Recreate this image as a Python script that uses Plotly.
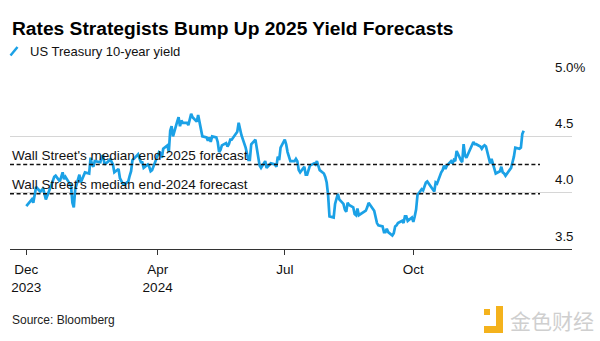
import plotly.graph_objects as go

# ---------------- data ----------------
dates = [
    "2023-12-29",
    "2024-01-02", "2024-01-03", "2024-01-04", "2024-01-05", "2024-01-08", "2024-01-09", "2024-01-10",
    "2024-01-11", "2024-01-12", "2024-01-16", "2024-01-17", "2024-01-18", "2024-01-19", "2024-01-22",
    "2024-01-23", "2024-01-24", "2024-01-25", "2024-01-26", "2024-01-29", "2024-01-30", "2024-01-31",
    "2024-02-01", "2024-02-02", "2024-02-05", "2024-02-06", "2024-02-07", "2024-02-08", "2024-02-09",
    "2024-02-12", "2024-02-13", "2024-02-14", "2024-02-15", "2024-02-16", "2024-02-20", "2024-02-21",
    "2024-02-22", "2024-02-23", "2024-02-26", "2024-02-27", "2024-02-28", "2024-02-29", "2024-03-01",
    "2024-03-04", "2024-03-05", "2024-03-06", "2024-03-07", "2024-03-08", "2024-03-11", "2024-03-12",
    "2024-03-13", "2024-03-14", "2024-03-15", "2024-03-18", "2024-03-19", "2024-03-20", "2024-03-21",
    "2024-03-22", "2024-03-25", "2024-03-26", "2024-03-27", "2024-03-28",
    "2024-04-01", "2024-04-02", "2024-04-03", "2024-04-04", "2024-04-05", "2024-04-08", "2024-04-09",
    "2024-04-10", "2024-04-11", "2024-04-12", "2024-04-15", "2024-04-16", "2024-04-17", "2024-04-18",
    "2024-04-19", "2024-04-22", "2024-04-23", "2024-04-24", "2024-04-25", "2024-04-26", "2024-04-29",
    "2024-04-30", "2024-05-01", "2024-05-02", "2024-05-03", "2024-05-06", "2024-05-07", "2024-05-08",
    "2024-05-09", "2024-05-10", "2024-05-13", "2024-05-14", "2024-05-15", "2024-05-16", "2024-05-17",
    "2024-05-20", "2024-05-21", "2024-05-22", "2024-05-23", "2024-05-24", "2024-05-28", "2024-05-29",
    "2024-05-30", "2024-05-31", "2024-06-03", "2024-06-04", "2024-06-05", "2024-06-06", "2024-06-07",
    "2024-06-10", "2024-06-11", "2024-06-12", "2024-06-13", "2024-06-14", "2024-06-17", "2024-06-18",
    "2024-06-20", "2024-06-21", "2024-06-24", "2024-06-25", "2024-06-26", "2024-06-27", "2024-06-28",
    "2024-07-01", "2024-07-02", "2024-07-03", "2024-07-05", "2024-07-08", "2024-07-09", "2024-07-10",
    "2024-07-11", "2024-07-12", "2024-07-15", "2024-07-16", "2024-07-17", "2024-07-18", "2024-07-19",
    "2024-07-22", "2024-07-23", "2024-07-24", "2024-07-25", "2024-07-26", "2024-07-29", "2024-07-30",
    "2024-07-31", "2024-08-01", "2024-08-02", "2024-08-05", "2024-08-06", "2024-08-07", "2024-08-08",
    "2024-08-09", "2024-08-12", "2024-08-13", "2024-08-14", "2024-08-15", "2024-08-16", "2024-08-19",
    "2024-08-20", "2024-08-21", "2024-08-22", "2024-08-23", "2024-08-26", "2024-08-27", "2024-08-28",
    "2024-08-29", "2024-08-30", "2024-09-03", "2024-09-04", "2024-09-05", "2024-09-06", "2024-09-09",
    "2024-09-10", "2024-09-11", "2024-09-12", "2024-09-13", "2024-09-16", "2024-09-17", "2024-09-18",
    "2024-09-19", "2024-09-20", "2024-09-23", "2024-09-24", "2024-09-25", "2024-09-26", "2024-09-27",
    "2024-09-30", "2024-10-01", "2024-10-02", "2024-10-03", "2024-10-04", "2024-10-07", "2024-10-08",
    "2024-10-09", "2024-10-10", "2024-10-11", "2024-10-15", "2024-10-16", "2024-10-17", "2024-10-18",
    "2024-10-21", "2024-10-22", "2024-10-23", "2024-10-24", "2024-10-25", "2024-10-28", "2024-10-29",
    "2024-10-30", "2024-10-31", "2024-11-01", "2024-11-04", "2024-11-05", "2024-11-06", "2024-11-07",
    "2024-11-08", "2024-11-12", "2024-11-13", "2024-11-14", "2024-11-15", "2024-11-18", "2024-11-19",
    "2024-11-20", "2024-11-21", "2024-11-22", "2024-11-25", "2024-11-26", "2024-11-27", "2024-11-29",
    "2024-12-02", "2024-12-03", "2024-12-04", "2024-12-05", "2024-12-06", "2024-12-09", "2024-12-10",
    "2024-12-11", "2024-12-12", "2024-12-13", "2024-12-16", "2024-12-17", "2024-12-18", "2024-12-19",
]
yields = [
    3.88,
    3.94, 3.91, 3.99, 4.05, 4.01, 4.02, 4.04,
    3.98, 3.94, 4.07, 4.10, 4.14, 4.15, 4.10,
    4.14, 4.18, 4.12, 4.14, 4.08, 4.06, 3.91,
    3.87, 4.03, 4.16, 4.09, 4.12, 4.15, 4.18,
    4.17, 4.31, 4.25, 4.23, 4.28, 4.27, 4.32,
    4.33, 4.25, 4.28, 4.30, 4.27, 4.25, 4.18,
    4.21, 4.13, 4.10, 4.08, 4.07, 4.10, 4.15,
    4.19, 4.29, 4.30, 4.34, 4.30, 4.27, 4.27,
    4.22, 4.25, 4.23, 4.19, 4.20,
    4.33, 4.36, 4.35, 4.31, 4.39, 4.42, 4.36,
    4.55, 4.59, 4.50, 4.63, 4.67, 4.59, 4.64,
    4.62, 4.62, 4.60, 4.65, 4.70, 4.67, 4.63,
    4.69, 4.63, 4.58, 4.50, 4.49, 4.46, 4.49,
    4.45, 4.50, 4.49, 4.45, 4.36, 4.38, 4.42,
    4.44, 4.41, 4.43, 4.47, 4.47, 4.54, 4.62,
    4.55, 4.51, 4.40, 4.33, 4.29, 4.29, 4.43,
    4.47, 4.40, 4.31, 4.24, 4.22, 4.28, 4.22,
    4.25, 4.26, 4.25, 4.23, 4.32, 4.29, 4.40,
    4.47, 4.43, 4.36, 4.28, 4.28, 4.30, 4.28,
    4.20, 4.18, 4.23, 4.16, 4.16, 4.20, 4.24,
    4.26, 4.25, 4.28, 4.24, 4.20, 4.17, 4.14,
    4.09, 3.98, 3.79, 3.78, 3.90, 3.96, 3.99,
    3.94, 3.90, 3.85, 3.83, 3.91, 3.89, 3.87,
    3.81, 3.80, 3.86, 3.80, 3.82, 3.83, 3.84,
    3.87, 3.91, 3.84, 3.77, 3.73, 3.71, 3.70,
    3.65, 3.65, 3.68, 3.65, 3.62, 3.64, 3.70,
    3.71, 3.73, 3.75, 3.73, 3.79, 3.79, 3.75,
    3.78, 3.74, 3.79, 3.85, 3.98, 4.03, 4.02,
    4.06, 4.09, 4.10, 4.03, 4.01, 4.09, 4.08,
    4.18, 4.20, 4.24, 4.21, 4.24, 4.28, 4.26,
    4.29, 4.28, 4.37, 4.29, 4.27, 4.43, 4.33,
    4.31, 4.43, 4.45, 4.43, 4.43, 4.41, 4.39,
    4.41, 4.42, 4.41, 4.26, 4.30, 4.25, 4.17,
    4.19, 4.23, 4.18, 4.17, 4.15, 4.20, 4.22,
    4.27, 4.32, 4.40, 4.39, 4.40, 4.52, 4.55,
]

forecast_labels = ["Wall Street's median end-2025 forecast", "Wall Street's median end-2024 forecast"]
forecast_values = [4.25, 3.99]

x_tick_vals = ["2023-12-29", "2024-04-01", "2024-07-01", "2024-10-01"]
x_tick_text = ["Dec<br>2023", "Apr<br>2024", "Jul", "Oct"]
y_tick_vals = [3.5, 4.0, 4.5, 5.0]
y_tick_text = ["3.5", "4.0", "4.5", "5.0%"]

title_text = "Rates Strategists Bump Up 2025 Yield Forecasts"
series_name = "US Treasury 10-year yield"
source_text = "Source: Bloomberg"

# ---------------- layout helpers ----------------
W, H = 600, 341
ML, MR, MT, MB = 10, 28, 80, 92
PW = W - ML - MR
PH = H - MT - MB
FONT = "Liberation Sans, Arial, sans-serif"
BLUE = "#1ba1e6"
DARK = "#111111"


def px(xp):
    return (xp - ML) / PW


def py(yp):
    return (H - MB - yp) / PH


fig = go.Figure()
fig.add_trace(go.Scatter(
    x=dates, y=yields, mode="lines", name=series_name,
    line=dict(color=BLUE, width=2.7), hoverinfo="skip", showlegend=False,
))

shapes = []
annotations = []

# forecast dashed lines + labels
for lab, val in zip(forecast_labels, forecast_values):
    shapes.append(dict(type="line", xref="paper", yref="y", x0=0, x1=px(540), y0=val, y1=val,
                       line=dict(color=DARK, width=1.5, dash="4px,2.6px"), layer="above"))
    annotations.append(dict(text=lab, xref="paper", yref="y", x=0, y=val, xanchor="left",
                            yanchor="middle", yshift=9, showarrow=False,
                            font=dict(family=FONT, size=13.5, color=DARK)))

# y tick labels (above gridlines, left aligned)
for v, t in zip(y_tick_vals, y_tick_text):
    annotations.append(dict(text=t, xref="paper", yref="y", x=px(552.5), y=v, xanchor="left",
                            yanchor="middle", yshift=12.8, showarrow=False,
                            font=dict(family=FONT, size=13.3, color=DARK)))

# title
annotations.append(dict(text="<b>" + title_text + "</b>", xref="paper", yref="paper", x=0, y=py(28),
                        xanchor="left", yanchor="middle", showarrow=False,
                        font=dict(family=FONT, size=19.2, color="#000000")))
# legend
shapes.append(dict(type="line", xref="paper", yref="paper", x0=px(10.5), x1=px(17.5), y0=py(55.5), y1=py(47),
                   line=dict(color=BLUE, width=2.5)))
annotations.append(dict(text=series_name, xref="paper", yref="paper", x=px(27.5), y=py(51.5),
                        xanchor="left", yanchor="middle", showarrow=False,
                        font=dict(family=FONT, size=13, color=DARK)))
# source
annotations.append(dict(text=source_text, xref="paper", yref="paper", x=0, y=py(320),
                        xanchor="left", yanchor="middle", showarrow=False,
                        font=dict(family=FONT, size=12, color="#222222")))

# watermark
YEL = "#f4b21c"
shapes.append(dict(type="rect", xref="paper", yref="paper", x0=px(484), x1=px(490), y0=py(315), y1=py(309),
                   fillcolor=YEL, line=dict(width=0)))
shapes.append(dict(type="rect", xref="paper", yref="paper", x0=px(496), x1=px(503), y0=py(333), y1=py(306),
                   fillcolor=YEL, line=dict(width=0)))
shapes.append(dict(type="rect", xref="paper", yref="paper", x0=px(484), x1=px(503), y0=py(333), y1=py(326),
                   fillcolor=YEL, line=dict(width=0)))
annotations.append(dict(text="金色财经", xref="paper", yref="paper", x=px(508), y=py(320),
                        xanchor="left", yanchor="middle", showarrow=False,
                        font=dict(family="Noto Sans CJK SC", size=21, color="#cfcfcf")))

fig.update_layout(
    width=W, height=H,
    margin=dict(l=ML, r=MR, t=MT, b=MB, pad=0),
    paper_bgcolor="white", plot_bgcolor="white",
    font=dict(family=FONT, color=DARK),
    showlegend=False,
    shapes=shapes,
    annotations=annotations,
    xaxis=dict(
        type="date", range=["2023-12-17 08:00", "2025-01-22 14:00"],
        tickmode="array", tickvals=x_tick_vals, ticktext=x_tick_text,
        ticks="outside", ticklen=5, tickwidth=1.2, tickcolor="#333333",
        showline=True, linecolor="#333333", linewidth=1.4,
        showgrid=False, zeroline=False, ticklabelstandoff=3,
        tickfont=dict(family=FONT, size=13.5, color=DARK),
        fixedrange=True,
    ),
    yaxis=dict(
        range=[3.5, 5.0], tickmode="array", tickvals=y_tick_vals,
        showticklabels=False, showgrid=True, gridcolor="#d6d6d6", gridwidth=1,
        zeroline=False, showline=False, ticks="", fixedrange=True,
    ),
)

fig.write_html("out.html", config={"displayModeBar": False})
